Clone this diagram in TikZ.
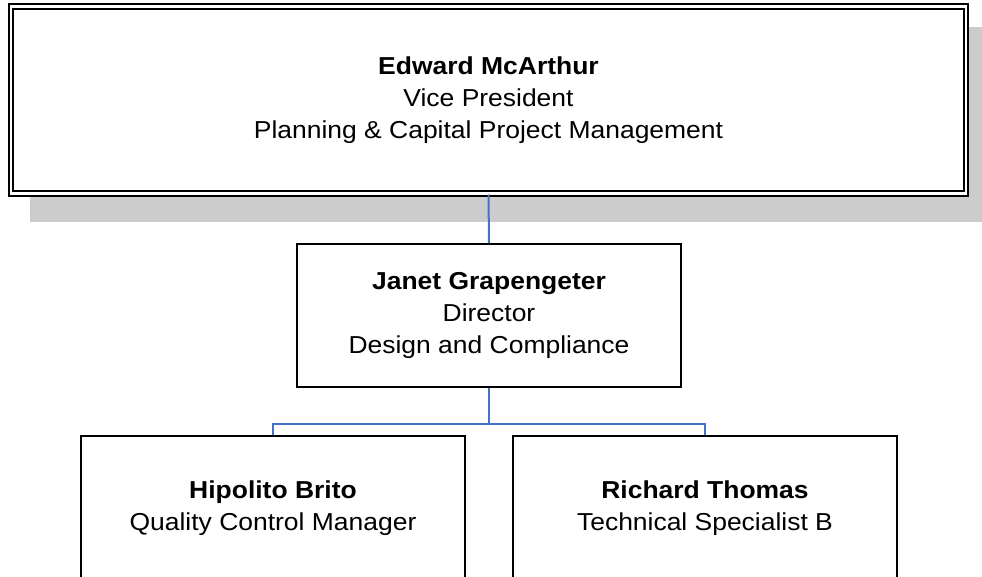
\documentclass[tikz,border=0pt]{standalone}
\usepackage{fontspec}
\setmainfont{Liberation Sans}[FakeStretch=1.08]
\definecolor{conn}{RGB}{68,114,196}
\definecolor{shadowgray}{RGB}{204,204,204}
\tikzset{
  orgbox/.style={draw=black, line width=2bp, fill=white, rectangle, align=center,
    inner sep=0pt, font=\fontsize{24.5bp}{32bp}\selectfont},
  topbox/.style={orgbox, double=white, double distance=2.5bp, line width=2bp},
  link/.style={draw=conn, line width=2bp}
}
\begin{document}
\begin{tikzpicture}[x=1bp,y=-1bp]
\clip (0,0) rectangle (982,577);
\fill[white] (0,0) rectangle (982,577);
% shadow of top box
\fill[shadowgray] (30,27) rectangle (995,222);
% nodes
\node[topbox, minimum width=955bp, minimum height=187bp] (ed) at (488.5,100)
  {\textbf{Edward McArthur}\\Vice President\\Planning \& Capital Project Management};
\node[orgbox, minimum width=384bp, minimum height=143bp] (jg) at (489,315.5)
  {\textbf{Janet Grapengeter}\\Director\\Design and Compliance};
\node[orgbox, minimum width=384bp, minimum height=144bp] (hb) at (273,508)
  {\textbf{Hipolito Brito}\\Quality Control Manager};
\node[orgbox, minimum width=384bp, minimum height=144bp] (rt) at (705,508)
  {\textbf{Richard Thomas}\\Technical Specialist B};
\coordinate (bus) at (489,424);
% connectors
\draw[link] (ed.south) -- (jg.north);
\draw[link] (jg.south) -- (bus);
\draw[link] (bus) -| (hb.north);
\draw[link] (bus) -| (rt.north);
\end{tikzpicture}
\end{document}
